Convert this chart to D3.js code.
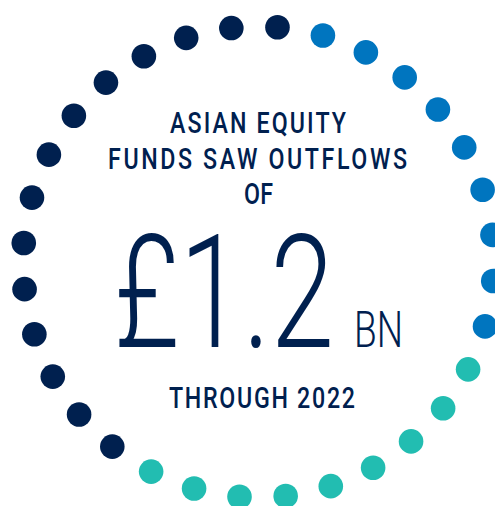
<!DOCTYPE html>
<html><head><meta charset="utf-8">
<script src="https://cdn.jsdelivr.net/npm/d3@7"></script>
<style>html,body{margin:0;padding:0;background:#fff;overflow:hidden}</style>
</head><body>
<svg id="c" width="495" height="506"></svg>
<script>
const groups = ["Blue", "Teal", "Navy"];
const dotCounts = [9, 9, 14];
const groupColors = ["#0075BF", "#22BDB1", "#00204F"];
const titleLines = ["ASIAN EQUITY", "FUNDS SAW OUTFLOWS", "OF"];
const valueText = "£1.2";
const unitText = "BN";
const subtitleText = "THROUGH 2022";

const svg = d3.select("#c");
const cx = 258.5, cy = 262, R = 235.5, dotR = 12.3;
const dots = [];
groups.forEach((g, gi) => { for (let i = 0; i < dotCounts[gi]; i++) dots.push({group: g}); });
const total = dots.length;
const angle = d3.scaleLinear().domain([0, total]).range([15.875, 375.875]);
const color = d3.scaleOrdinal().domain(groups).range(groupColors);

svg.append("g").selectAll("circle").data(dots).join("circle")
  .attr("cx", (d, i) => cx + R * Math.sin(angle(i) * Math.PI / 180))
  .attr("cy", (d, i) => cy - R * Math.cos(angle(i) * Math.PI / 180))
  .attr("r", dotR)
  .attr("fill", d => color(d.group));

const navy = "#00204F";
const sx = 0.8;
function condensed(x, y, txt, size, width, weight) {
  const g = svg.append("g").attr("transform", `translate(${x},${y}) scale(${sx},1)`);
  g.append("text").attr("x", 0).attr("y", 0)
    .attr("text-anchor", "middle")
    .attr("font-family", "Roboto, sans-serif").attr("font-weight", weight)
    .attr("font-size", size).attr("fill", navy)
    .attr("textLength", width / sx).attr("lengthAdjust", "spacing")
    .text(txt);
}
const titleWidths = [176, 299, 29];
const titleX = [258, 257.5, 258.5];
titleLines.forEach((t, i) => condensed(titleX[i], 133 + i * 35.5, t, 29, titleWidths[i], 500));
condensed(262, 408, subtitleText, 29, 186, 500);

svg.append("text").attr("x", 114).attr("y", 347)
  .attr("font-family", "Roboto, sans-serif").attr("font-weight", 300)
  .attr("font-size", 157).attr("fill", navy)
  .attr("textLength", 220).attr("lengthAdjust", "spacingAndGlyphs")
  .text(valueText);

svg.append("text").attr("x", 354).attr("y", 347)
  .attr("font-family", "Roboto, sans-serif").attr("font-weight", 300)
  .attr("font-size", 50).attr("fill", navy)
  .attr("textLength", 49).attr("lengthAdjust", "spacingAndGlyphs")
  .text(unitText);
</script>
</body></html>
